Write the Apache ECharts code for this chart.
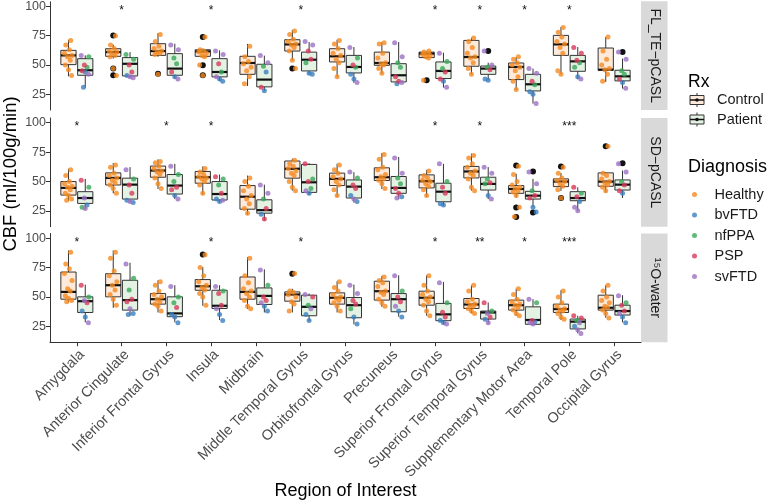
<!DOCTYPE html>
<html><head><meta charset="utf-8">
<script src="https://cdn.jsdelivr.net/npm/echarts@6/dist/echarts.min.js"></script>
<style>html,body{margin:0;padding:0;background:#fff}#c{width:768px;height:501px}</style>
</head><body><div id="c"></div>
<script>
// ---------- DATA ----------
const regions = ['Amygdala','Anterior Cingulate','Inferior Frontal Gyrus','Insula','Midbrain','Middle Temporal Gyrus','Orbitofrontal Gyrus','Precuneus','Superior Frontal Gyrus','Superior Temporal Gyrus','Supplementary Motor Area','Temporal Pole','Occipital Gyrus'];
const panelNames = ['FL_TE\u2212pCASL','SD\u2212pCASL','\u00b9\u2075O-water'];
const diagnoses = ['Healthy','bvFTD','nfPPA','PSP','svFTD'];
const rxGroups = ['Control','Patient'];
const yTicks = [25,50,75,100];

// box stats per region: [lower whisker, Q1, median, Q3, upper whisker]
const ctrlBox_FL = [[40.3,50.3,58.2,62.5,71.6],[55.5,57.4,61,63.9,67.3],[57,58.2,61.9,68.2,77.3],[56,57.4,61.6,63,64],[32,42,51.7,57.4,68],[54,61.9,67.6,71.6,80],[39.8,52.6,57.4,63.9,71.6],[42.6,49.7,51.7,61,69.6],[55.5,56.3,59.7,61,62],[42,48.9,56.8,71,73.3],[28.4,37.5,48.3,51.7,56.8],[42,58.2,67.6,75.3,82.4],[35.5,45.5,46,64.5,73.9]];
const patBox_FL = [[30.7,41.2,45.5,55.4,58.2],[39,40.6,51,56.3,61],[38.4,41.2,46.9,59.7,68.2],[36.4,39.8,44,55.4,62.5],[27.8,31.3,37.5,50.6,58],[42,44.9,54.5,61,69.6],[34.7,43.2,48.3,58.2,65.3],[34,35.5,41.2,51.1,69.6],[30.7,38.4,44.9,52.6,60.5],[36.9,42,46.9,49.1,52],[17,27.8,33.5,42,46.9],[37.8,44.6,53.1,58.2,65.3],[29.8,36.4,40.3,45.5,55.4]];
const ctrlOut_FL = [[],[75.3,46.9,41.2],[42.6],[73.9,49.7,41.2],[],[46.9],[],[],[36.9],[],[],[],[]];
const patOut_FL = [[],[],[],[],[],[],[],[],[],[61.9],[],[],[61]];
const ctrlPts_FL = [[71,67,63,60,58,57,54,50,46,41],[75,67,64,62,61,60,58,57,47,41],[76,70,66,64,62,61,60,59,42],[74,63,62,61,60,58,57,50,41],[66,57,53,51,48,45,40,34],[79,76,72,70,68,67,65,62,54,47],[71,68,64,60,58,55,52,47,40],[69,68,60,56,52,51,50,47,43],[62,61,60,59,58,57,56,37],[73,70,65,60,57,56,52,47,42],[57,55,52,50,48,45,40,36,29],[82,78,74,70,68,65,60,45,42],[74,62,55,50,47,46,42,36]];
// patient points: [value, diagnosis index (1 bvFTD, 2 nfPPA, 3 PSP, 4 svFTD)]
const patPts_FL = [[[58,4],[57,2],[50,3],[48,2],[45,3],[44,1],[42,4],[31,1]],[[59,2],[55,2],[50,3],[44,3],[41,1],[40,4],[39,4]],[[67,4],[63,4],[56,2],[51,2],[44,3],[40,1],[38,4]],[[62,4],[59,4],[51,3],[44,2],[40,4],[38,1],[36,1]],[[58,4],[52,4],[49,2],[44,1],[31,3],[28,1]],[[70,4],[67,4],[62,3],[55,3],[52,2],[43,1],[42,1]],[[65,4],[56,2],[50,3],[48,2],[42,1],[38,1],[35,4]],[[69,4],[57,4],[52,2],[48,2],[40,3],[36,3],[35,4],[34,1]],[[60,4],[53,2],[47,2],[44,3],[38,3],[36,1],[31,4]],[[62,4],[50,4],[48,2],[46,3],[38,1],[37,1]],[[47,4],[43,4],[36,3],[33,2],[27,1],[25,1],[17,4]],[[65,3],[60,3],[54,3],[52,2],[48,2],[40,1],[38,4]],[[61,4],[55,4],[45,2],[42,2],[38,3],[35,1],[30,4]]];
const sig_FL = ['','*','','*','','*','','','*','*','*','*',''];

const ctrlBox_SD = [[33.6,38.4,44.5,49.9,60.8],[39.9,47,53,57.3,65.6],[43.6,53.6,59.3,63.1,68.8],[38.7,48.5,53.6,58.5,62.8],[21.6,26.4,37,46.5,55],[42.2,52.8,60.8,67.4,69.4],[37,46.5,52.2,57.1,65],[43.6,50.8,53.6,61.6,74.2],[37,44.5,50.2,55.6,59.9],[42.2,53,58.5,62.8,73.7],[36.4,39.9,43.6,46.5,56.5],[42,45.6,49.9,52.2,57.1],[40.7,45.9,49.9,57.3,58]];
const patBox_SD = [[26.4,31.3,35.9,41.3,52.2],[32,35,47.3,52.8,62.2],[35,39.3,46.5,55.9,65],[32,34.2,39.3,49.9,55.9],[17,23,25.6,34.4,47.3],[38.7,40.7,49.3,64.5,65.6],[32,35.9,45.6,51.3,57.9],[35,39.9,44.5,54.2,70.8],[29.3,32.7,41.3,48.5,65],[35,42.7,47.9,53.6,62.2],[27.9,35,37.9,41.6,52.2],[25,33.6,35.9,41.3,45],[35.9,42.7,47.3,51.3,59.3]];
const ctrlOut_SD = [[],[],[],[],[],[],[],[],[],[],[63.6,27.9,19.8],[62.8,35.9],[80]];
const patOut_SD = [[],[],[],[],[],[],[],[],[],[],[58.5,23.6],[],[65.6]];
const ctrlPts_SD = [[60,55,50,48,46,45,43,40,38,35,34],[64,62,57,55,53,51,49,47,44,40],[67,66,63,61,59,58,56,53,48,44],[61,58,56,54,53,52,50,47,40],[53,50,46,42,38,35,31,27,23],[68,65,63,61,59,57,55,50,45,42],[64,60,57,54,52,50,47,43,38],[73,69,62,60,56,54,52,51,48,44],[59,55,53,51,50,48,46,43,38],[72,70,65,62,59,57,55,52,45,42],[63,56,50,47,45,44,42,41,38,28,20],[62,57,53,51,50,48,46,43,36],[80,57,55,52,50,49,47,45,42]];
const patPts_SD = [[[51,3],[45,2],[36,4],[30,1],[28,2],[27,4]],[[60,4],[52,2],[47,3],[40,3],[34,1],[33,4],[32,1]],[[63,4],[56,2],[50,2],[45,3],[43,3],[38,1],[35,4]],[[54,3],[52,2],[47,2],[40,3],[35,1],[33,1],[34,4]],[[47,4],[40,4],[35,2],[27,3],[22,1],[18,3]],[[65,3],[52,2],[50,3],[44,2],[42,4],[40,1]],[[58,4],[53,2],[47,3],[44,3],[38,1],[35,4],[33,1]],[[70,4],[57,4],[53,2],[48,2],[44,3],[40,3],[37,1],[36,4]],[[65,4],[50,2],[45,3],[40,3],[31,1],[30,1]],[[62,4],[57,4],[52,2],[49,3],[48,2],[38,1],[35,4]],[[58,4],[48,4],[42,2],[38,3],[36,3],[28,1],[24,1]],[[45,3],[40,2],[37,3],[33,1],[28,4],[25,4]],[[65,4],[58,4],[50,2],[47,3],[42,3],[40,1]]];
const sig_SD = ['*','','*','*','','','','','*','*','','***',''];

const ctrlBox_O = [[45.3,48.1,54.3,71.2,89.6],[40.8,50.1,60,69.8,89.6],[36.8,43.9,48.1,52.9,64.2],[42.5,55.7,59.1,64.8,75.5],[39.7,48.1,54.3,67,83.9],[36.8,46.4,52.1,54.3,57],[36.8,43.9,49.3,53.5,63.4],[41.6,47.3,54.9,63.4,67.9],[34,43,49.3,54.9,68.4],[36,40.2,43.6,48.7,60],[34,38.8,43,47.3,57.1],[30.4,36.8,39.7,43.9,55.7],[32.3,38.8,40.8,51.5,60]];
const patBox_O = [[28.4,36.8,46.4,50.1,60.5],[34,38.8,47.3,64.2,79.1],[28.4,33.2,36,50.1,60],[30.4,40.2,42.5,55.7,60],[36.8,43.6,50.9,57.7,73.5],[29.5,34,41.6,51.5,52.9],[26.7,32.3,43,49.5,60.5],[33.2,37.4,48.1,52.9,68.4],[27,29.8,35.2,44.5,62.8],[27.5,31.2,36.8,38,45.3],[26.7,26.7,30.4,41.6,48.1],[19.1,22.8,29,31.2,34],[28.4,34.6,38,43,51.5]];
const ctrlOut_O = [[],[],[],[86.2],[],[69.8],[],[],[],[],[],[],[]];
const patOut_O = [[],[],[],[],[],[],[],[],[],[],[],[],[]];
const ctrlPts_O = [[88,78,74,70,64,57,55,51,49,47,46],[88,83,72,68,63,60,56,52,48,43],[63,60,55,52,50,48,46,44,42,38],[86,75,68,63,60,58,56,53,50,43],[83,68,62,57,55,53,50,47,42,40],[70,55,54,52,50,46,44,38],[63,58,55,52,50,49,47,45,42,38],[67,64,62,59,55,54,52,48,45,42],[68,60,55,52,50,48,46,43,38,34],[60,55,48,46,44,43,42,40,38,36],[57,52,48,46,44,43,41,39,36,34],[55,50,45,42,40,39,38,36,33,31],[60,55,50,47,45,42,41,39,36,32]];
const patPts_O = [[[60,3],[50,2],[47,4],[45,3],[38,1],[33,1],[28,4]],[[78,4],[66,2],[56,2],[48,3],[46,3],[40,4],[36,1],[35,1]],[[59,4],[50,2],[45,2],[41,3],[35,1],[33,1],[28,1]],[[59,4],[55,2],[53,3],[43,3],[40,4],[35,1],[30,1]],[[73,4],[60,2],[50,3],[47,3],[45,4],[42,1],[38,1]],[[52,4],[50,3],[43,2],[40,4],[35,1],[30,1]],[[60,4],[53,4],[47,3],[44,3],[40,2],[33,1],[27,1]],[[68,4],[55,2],[50,3],[46,3],[42,4],[38,1],[33,1]],[[62,4],[45,2],[37,3],[33,3],[30,1],[28,1],[27,4]],[[45,3],[38,2],[36,4],[33,3],[31,1],[28,4]],[[48,4],[45,2],[30,3],[29,1],[28,4],[27,4]],[[34,3],[32,3],[30,2],[28,4],[25,1],[22,4],[19,4]],[[51,4],[45,2],[43,3],[38,3],[36,4],[33,1],[28,1]]];
const sig_O = ['*','','','*','','*','','','*','**','*','***',''];

// ---------- STYLE ----------
const FONT = 'Liberation Sans, Arial, Helvetica, sans-serif';
const diagColors = ['#f58a1f','#3b7fc1','#3aa75a','#d93a5c','#9b72c3'];
const rxFill = ['#fdeadb','#e3f2e3'];
const jitter = [0.05,-0.06,0.02,-0.09,0.08,-0.02,0.04,-0.07,0.0,0.07,-0.04];
const dodge = 0.1875, halfW = 0.17;
const yMin = 11.5, yMax = 104;
const gridTops = [1.3, 118, 233.5], gridH = 108.7, gridLeft = 50, gridRight = 641;

const panels = [
  {cb:ctrlBox_FL,pb:patBox_FL,co:ctrlOut_FL,po:patOut_FL,cp:ctrlPts_FL,pp:patPts_FL,sig:sig_FL},
  {cb:ctrlBox_SD,pb:patBox_SD,co:ctrlOut_SD,po:patOut_SD,cp:ctrlPts_SD,pp:patPts_SD,sig:sig_SD},
  {cb:ctrlBox_O,pb:patBox_O,co:ctrlOut_O,po:patOut_O,cp:ctrlPts_O,pp:patPts_O,sig:sig_O}
];

const grids = [], xAxes = [], yAxes = [], series = [];
const ticksX = regions.map((r,i)=>i+1);

panels.forEach((P, pi) => {
  grids.push({left:gridLeft, width:gridRight-gridLeft, top:gridTops[pi], height:gridH, containLabel:false});
  const last = pi === 2;
  xAxes.push({type:'value', gridIndex:pi, min:0.4, max:13.6,
    axisLine:{show:last, onZero:false, lineStyle:{color:'#333',width:1}},
    axisTick:{show:last, customValues:ticksX, length:4, lineStyle:{color:'#333'}},
    axisLabel:{show:last, customValues:ticksX, rotate:45, margin:5, verticalAlign:'top', color:'#4d4d4d', fontSize:14.5, fontFamily:FONT,
      formatter:v=>regions[Math.round(v)-1]},
    splitLine:{show:false}});
  yAxes.push({type:'value', gridIndex:pi, min:yMin, max:yMax,
    axisLine:{show:true, lineStyle:{color:'#333',width:1}},
    axisTick:{show:true, customValues:yTicks, length:4, lineStyle:{color:'#333'}},
    axisLabel:{show:true, customValues:yTicks, margin:4, color:'#4d4d4d', fontSize:12.5, fontFamily:FONT},
    splitLine:{show:false}});

  // boxes
  const boxData = [];
  regions.forEach((r,i)=>{
    boxData.push([i+1-dodge].concat(P.cb[i]).concat([0]));
    boxData.push([i+1+dodge].concat(P.pb[i]).concat([1]));
  });
  series.push({type:'custom', name:'box'+pi, xAxisIndex:pi, yAxisIndex:pi, data:boxData, z:2,
    encode:{x:0,y:[1,2,3,4,5]},
    renderItem:(params, api)=>{
      const x = api.value(0), g = api.value(6);
      const wTop = api.coord([x, api.value(5)]), q3 = api.coord([x, api.value(4)]);
      const q1 = api.coord([x, api.value(2)]), wBot = api.coord([x, api.value(1)]);
      const tl = api.coord([x-halfW, api.value(4)]), br = api.coord([x+halfW, api.value(2)]);
      const mL = api.coord([x-halfW, api.value(3)]), mR = api.coord([x+halfW, api.value(3)]);
      const st = {stroke:'#333', lineWidth:1};
      return {type:'group', children:[
        {type:'line', shape:{x1:wTop[0],y1:wTop[1],x2:q3[0],y2:q3[1]}, style:st},
        {type:'line', shape:{x1:q1[0],y1:q1[1],x2:wBot[0],y2:wBot[1]}, style:st},
        {type:'rect', shape:{x:tl[0],y:tl[1],width:br[0]-tl[0],height:br[1]-tl[1]}, style:{fill:rxFill[g],stroke:'#333',lineWidth:1}},
        {type:'line', shape:{x1:mL[0],y1:mL[1],x2:mR[0],y2:mR[1]}, style:{stroke:'#111',lineWidth:2.2}}
      ]};
    }});

  // outliers
  const outData = [];
  regions.forEach((r,i)=>{
    P.co[i].forEach(v=>outData.push([i+1-dodge, v]));
    P.po[i].forEach(v=>outData.push([i+1+dodge, v]));
  });
  series.push({type:'scatter', name:'outliers'+pi, xAxisIndex:pi, yAxisIndex:pi, data:outData, z:3,
    symbolSize:6, itemStyle:{color:'#111', opacity:1}, silent:true});

  // jittered points
  const dData = diagnoses.map(()=>[]);
  regions.forEach((r,i)=>{
    P.cp[i].forEach((v,k)=>dData[0].push([i+1-dodge+jitter[k%jitter.length], v]));
    P.pp[i].forEach((p,k)=>dData[p[1]].push([i+1+dodge+jitter[(k+3)%jitter.length], p[0]]));
  });
  diagnoses.forEach((d,di)=>{
    series.push({type:'scatter', name:d, xAxisIndex:pi, yAxisIndex:pi, data:dData[di], z:4,
      symbolSize:5, itemStyle:{color:diagColors[di], opacity:0.8}});
  });

  // significance stars
  const sigData = [];
  P.sig.forEach((s,i)=>{ if(s) sigData.push([i+1, 100, i]); });
  series.push({type:'custom', name:'sig'+pi, xAxisIndex:pi, yAxisIndex:pi, data:sigData, z:5,
    encode:{x:0,y:1},
    renderItem:(params, api)=>{
      const c = api.coord([api.value(0), api.value(1)]);
      return {type:'text', x:c[0], y:c[1]+4, style:{text:P.sig[api.value(2)], fill:'#111', fontSize:12, fontFamily:FONT, align:'center', verticalAlign:'middle'}};
    }});
});

// strips and titles
const graphics = [];
panelNames.forEach((n,pi)=>{
  graphics.push({type:'rect', shape:{x:641, y:gridTops[pi], width:26.5, height:gridH}, style:{fill:'#d9d9d9'}, silent:true});
  graphics.push({type:'text', x:654.5, y:gridTops[pi]+gridH/2, rotation:-Math.PI/2,
    style:{text:n, fill:'#1a1a1a', fontSize:14, fontFamily:FONT, align:'center', verticalAlign:'middle'}});
});
graphics.push({type:'text', x:11, y:174, rotation:Math.PI/2,
  style:{text:'CBF (ml/100g/min)', fill:'#000', fontSize:18.5, fontFamily:FONT, align:'center', verticalAlign:'middle'}});
graphics.push({type:'text', x:345.5, y:491, style:{text:'Region of Interest', fill:'#000', fontSize:18, fontFamily:FONT, align:'center', verticalAlign:'middle'}});
// Rx legend
graphics.push({type:'text', x:688, y:82, style:{text:'Rx', fill:'#000', fontSize:17.5, fontFamily:FONT, align:'left', verticalAlign:'middle'}});
rxGroups.forEach((g,gi)=>{
  const cy = 100 + gi*19.5, cx = 697;
  graphics.push({type:'group', children:[
    {type:'line', shape:{x1:cx,y1:cy-7,x2:cx,y2:cy+7}, style:{stroke:'#333',lineWidth:1}},
    {type:'rect', shape:{x:cx-7,y:cy-4.5,width:14,height:9}, style:{fill:rxFill[gi],stroke:'#333',lineWidth:1}},
    {type:'line', shape:{x1:cx-7,y1:cy,x2:cx+7,y2:cy}, style:{stroke:'#111',lineWidth:1.5}},
    {type:'circle', shape:{cx:cx,cy:cy,r:1.8}, style:{fill:'#111'}}
  ]});
  graphics.push({type:'text', x:717, y:cy, style:{text:g, fill:'#1a1a1a', fontSize:14.5, fontFamily:FONT, align:'left', verticalAlign:'middle'}});
});
graphics.push({type:'text', x:688, y:167, style:{text:'Diagnosis', fill:'#000', fontSize:18, fontFamily:FONT, align:'left', verticalAlign:'middle'}});

const chart = echarts.init(document.getElementById('c'), null, {renderer:'canvas'});
chart.setOption({
  animation:false,
  textStyle:{fontFamily:FONT},
  grid:grids, xAxis:xAxes, yAxis:yAxes, series:series,
  legend:{data:diagnoses, orient:'vertical', left:687, top:182, itemWidth:20, itemHeight:5, itemGap:5.5, icon:'circle',
    textStyle:{fontSize:14.5, lineHeight:14, color:'#1a1a1a', fontFamily:FONT, padding:[0,0,0,5]}, selectedMode:false},
  graphic:graphics
});
</script></body></html>
